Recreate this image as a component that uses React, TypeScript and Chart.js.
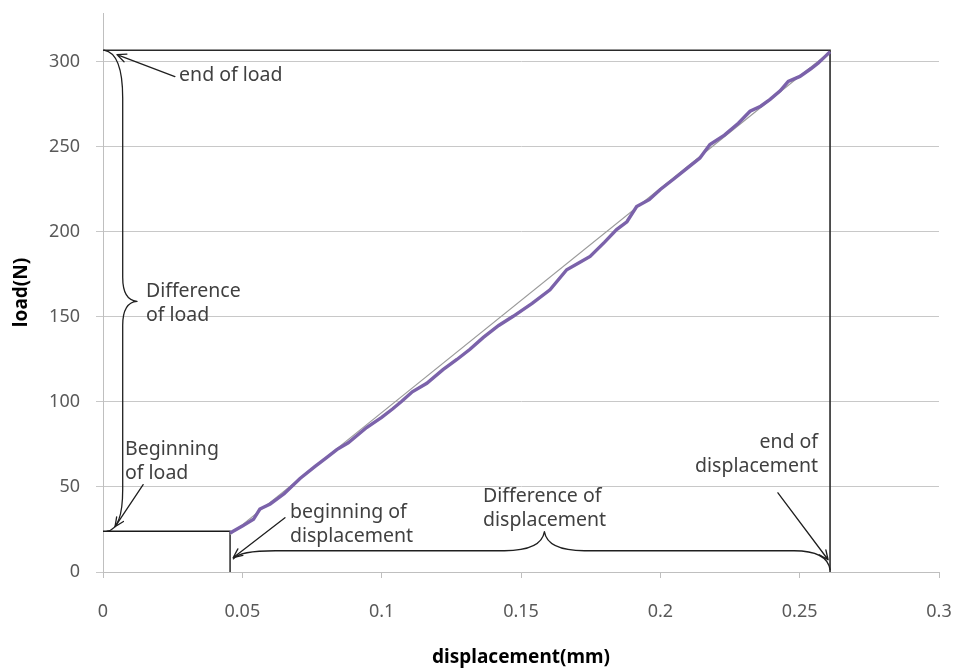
import React, { useEffect, useRef } from 'react';
import { Chart, registerables } from 'chart.js';

Chart.register(...registerables);

// measured load–displacement curve
const dispMM = [
  0.0456, 0.05, 0.054, 0.0563, 0.06, 0.065, 0.0707, 0.076, 0.08, 0.0839,
  0.088, 0.0946, 0.1, 0.104, 0.1072, 0.111, 0.1162, 0.122, 0.127, 0.1317,
  0.1365, 0.142, 0.1472, 0.154, 0.1604, 0.1664, 0.171, 0.1748, 0.18, 0.1843,
  0.188, 0.1915, 0.196, 0.2, 0.2047, 0.21, 0.2142, 0.2178, 0.223, 0.228,
  0.2322, 0.236, 0.2394, 0.243, 0.2459, 0.2501, 0.254, 0.2567, 0.259, 0.2609,
];
const loadN = [
  22.9, 27, 31, 37, 40, 46, 55, 62, 67, 72,
  76, 85, 91, 96, 100.4, 106, 111, 119, 125, 131,
  138, 145, 150.4, 158, 166, 177.8, 182, 185.6, 194, 201.4,
  206, 215, 219, 225, 231, 238, 243.5, 251.4, 257, 264,
  271, 274, 278, 283, 288.6, 291.5, 296, 299.4, 303, 306,
];
// linear trend line
const trendX = [0.0456, 0.2609];
const trendY = [22, 306];

// reference values of the marked box
const beginDisp = 0.0456;
const endDisp = 0.2609;
const beginLoad = 24;
const endLoad = 306.9;

const xTickLabels = ['0', '0.05', '0.1', '0.15', '0.2', '0.25', '0.3'];
const yTickLabels = ['0', '50', '100', '150', '200', '250', '300'];

// annotation texts (data coordinates)
const noteTexts = [
  { lines: ['end of load'], x: 0.0273, y: 291.9, align: 'left' },
  { lines: ['Difference', 'of load'], x: 0.0154, y: 164.9, align: 'left' },
  { lines: ['Beginning', 'of load'], x: 0.0079, y: 71.9, align: 'left' },
  { lines: ['beginning of', 'displacement'], x: 0.0671, y: 34.9, align: 'left' },
  { lines: ['Difference of', 'displacement'], x: 0.1364, y: 44.3, align: 'left' },
  { lines: ['end of', 'displacement'], x: 0.2566, y: 76.1, align: 'right' },
];
const noteArrows = [
  { from: [0.0258, 291.4], to: [0.005, 304.3] },
  { from: [0.0144, 51.4], to: [0.0043, 26.6] },
  { from: [0.0653, 31.9], to: [0.0467, 8.4] },
  { from: [0.2422, 46.6], to: [0.2602, 7.2] },
];
const loadBrace = { edgeX: 0, x: 0.00707, tipX: 0.0122, tipY: 159.2, top: endLoad, bottom: beginLoad };
const dispBrace = { y: 12.5, tipY: 23.7, tipX: 0.1584, left: 0.0468, leftEndY: 7.7, right: endDisp, rightEndY: 1.4 };

const FONT = '"Noto Sans", "Open Sans", sans-serif';

const annotationPlugin = {
  id: 'annotations',
  afterDatasetsDraw(chart: any) {
    const { ctx } = chart;
    const xs = chart.scales.x;
    const ys = chart.scales.y;
    const px = (v: number) => xs.getPixelForValue(v);
    const py = (v: number) => ys.getPixelForValue(v);
    ctx.save();
    ctx.strokeStyle = '#1f1f1f';
    ctx.lineWidth = 1.3;
    ctx.lineCap = 'round';
    ctx.lineJoin = 'round';

    // left brace
    {
      const E = px(loadBrace.edgeX) + 1;
      const L = px(loadBrace.x);
      const T = py(loadBrace.top);
      const B = py(loadBrace.bottom);
      const tx = px(loadBrace.tipX);
      const ty = py(loadBrace.tipY);
      ctx.beginPath();
      ctx.moveTo(E, T);
      ctx.quadraticCurveTo(L, T + 3, L, T + 48);
      ctx.lineTo(L, ty - 24);
      ctx.quadraticCurveTo(L, ty - 1, tx, ty);
      ctx.quadraticCurveTo(L, ty + 1, L, ty + 24);
      ctx.lineTo(L, B - 42);
      ctx.quadraticCurveTo(L, B - 2, E + 3, B);
      ctx.stroke();
    }
    // bottom brace
    {
      const Y = py(dispBrace.y);
      const x1 = px(dispBrace.left);
      const y1 = py(dispBrace.leftEndY);
      const x2 = px(dispBrace.right);
      const y2 = py(dispBrace.rightEndY);
      const tx = px(dispBrace.tipX);
      const ty = py(dispBrace.tipY);
      ctx.beginPath();
      ctx.moveTo(x1, y1);
      ctx.quadraticCurveTo(x1 + 6, Y, x1 + 42, Y);
      ctx.lineTo(tx - 40, Y);
      ctx.quadraticCurveTo(tx - 3, Y, tx, ty);
      ctx.quadraticCurveTo(tx + 3, Y, tx + 40, Y);
      ctx.lineTo(x2 - 36, Y);
      ctx.quadraticCurveTo(x2 - 3, Y, x2, y2);
      ctx.stroke();
    }
    // arrows
    for (const a of noteArrows) {
      const x0 = px(a.from[0]);
      const y0 = py(a.from[1]);
      const x1 = px(a.to[0]);
      const y1 = py(a.to[1]);
      const ang = Math.atan2(y1 - y0, x1 - x0);
      const head = 10;
      ctx.beginPath();
      ctx.moveTo(x0, y0);
      ctx.lineTo(x1, y1);
      ctx.moveTo(x1 - head * Math.cos(ang - 0.42), y1 - head * Math.sin(ang - 0.42));
      ctx.lineTo(x1, y1);
      ctx.lineTo(x1 - head * Math.cos(ang + 0.42), y1 - head * Math.sin(ang + 0.42));
      ctx.stroke();
    }
    // texts
    ctx.fillStyle = '#404040';
    ctx.font = `19.5px ${FONT}`;
    ctx.textBaseline = 'middle';
    for (const t of noteTexts) {
      ctx.textAlign = t.align as CanvasTextAlign;
      t.lines.forEach((line, i) => {
        ctx.fillText(line, px(t.x), py(t.y) + i * 24);
      });
    }
    ctx.restore();
  },
};

export default function App() {
  const ref = useRef<HTMLCanvasElement | null>(null);

  useEffect(() => {
    if (!ref.current) return;
    const curve = dispMM.map((x, i) => ({ x, y: loadN[i] }));
    const trend = trendX.map((x, i) => ({ x, y: trendY[i] }));
    const boxTop = [
      { x: 0, y: endLoad },
      { x: endDisp, y: endLoad },
      { x: endDisp, y: 0 },
    ];
    const boxBottom = [
      { x: 0, y: beginLoad },
      { x: beginDisp, y: beginLoad },
      { x: beginDisp, y: 0 },
    ];
    const chart = new Chart(ref.current, {
      type: 'scatter',
      data: {
        datasets: [
          { data: curve, showLine: true, borderColor: '#7b62aa', borderWidth: 3.4, pointRadius: 0, tension: 0 },
          { data: trend, showLine: true, borderColor: '#9a9a9a', borderWidth: 1.2, pointRadius: 0 },
          { data: boxTop, showLine: true, borderColor: '#2a2a2a', borderWidth: 1.6, pointRadius: 0 },
          { data: boxBottom, showLine: true, borderColor: '#1a1a1a', borderWidth: 1.4, pointRadius: 0 },
        ],
      },
      options: {
        responsive: false,
        animation: false,
        layout: { padding: { left: 0, top: 13, right: 0, bottom: 0 } },
        plugins: { legend: { display: false }, tooltip: { enabled: false } },
        scales: {
          x: {
            type: 'linear',
            min: 0,
            max: 0.3,
            afterFit: (s: any) => {
              s.height = 97;
              s.paddingLeft = 0;
              s.paddingRight = 14;
            },
            ticks: {
              stepSize: 0.05,
              padding: 23,
              color: '#595959',
              font: { family: FONT, size: 18 },
              maxRotation: 0,
              callback: (_v: any, i: number) => xTickLabels[i],
            },
            grid: { drawOnChartArea: false, drawTicks: true, tickLength: 6, color: '#bfbfbf' },
            border: { display: true, color: '#bfbfbf' },
            title: {
              display: true,
              text: 'displacement(mm)',
              color: '#000',
              font: { family: FONT, size: 19, weight: 'bold' },
              padding: { top: 0, bottom: 0 },
            },
          },
          y: {
            type: 'linear',
            min: 0,
            max: 328.8,
            afterFit: (s: any) => {
              s.width = 103;
              s.paddingTop = 0;
              s.paddingBottom = 0;
            },
            ticks: {
              stepSize: 50,
              includeBounds: false,
              padding: 16,
              color: '#595959',
              font: { family: FONT, size: 18 },
              callback: (_v: any, i: number) => yTickLabels[i],
            },
            grid: { color: '#c8c8c8', tickLength: 7 },
            border: { display: true, color: '#bfbfbf' },
            title: {
              display: true,
              text: 'load(N)',
              color: '#000',
              font: { family: FONT, size: 19, weight: 'bold' },
              padding: { top: 10, bottom: 0 },
            },
          },
        },
      },
      plugins: [annotationPlugin],
    });
    return () => chart.destroy();
  }, []);

  return (
    <div style={{ position: 'absolute', left: 0, top: 0, width: 953, height: 669, background: '#fff' }}>
      <canvas ref={ref} width={953} height={669} style={{ width: 953, height: 669, display: 'block' }} />
    </div>
  );
}
